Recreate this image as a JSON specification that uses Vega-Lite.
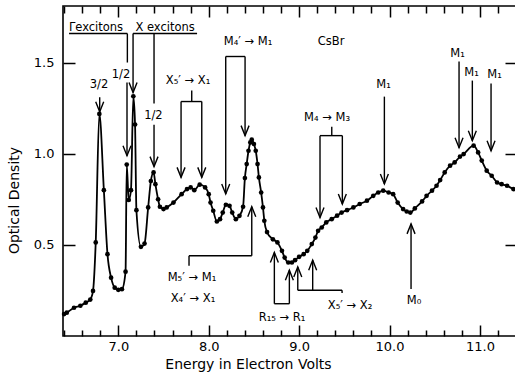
{
  "$schema": "https://vega.github.io/schema/vega-lite/v6.json",
  "width": 453,
  "height": 330,
  "autosize": {"type": "none"},
  "padding": {"left": 63, "top": 6, "right": 0, "bottom": 41},
  "background": "white",
  "config": {
    "view": {"stroke": "black", "strokeWidth": 1.6},
    "font": "DejaVu Sans",
    "axis": {"domain": false, "grid": false, "tickColor": "black", "tickWidth": 1.5, "labelColor": "black", "titleColor": "black", "labelFont": "DejaVu Sans", "titleFont": "DejaVu Sans", "labelFontSize": 13, "titleFontSize": 14, "titleFontWeight": "normal"}
  },
  "datasets": {
    "curve": [
      {"e": 6.40, "od": 0.12}, {"e": 6.43, "od": 0.128}, {"e": 6.51, "od": 0.155}, {"e": 6.58, "od": 0.166},
      {"e": 6.64, "od": 0.183}, {"e": 6.69, "od": 0.2}, {"e": 6.72, "od": 0.247}, {"e": 6.75, "od": 0.513},
      {"e": 6.79, "od": 1.218}, {"e": 6.84, "od": 0.8}, {"e": 6.88, "od": 0.449}, {"e": 6.92, "od": 0.32},
      {"e": 6.96, "od": 0.265}, {"e": 7.0, "od": 0.253}, {"e": 7.04, "od": 0.257}, {"e": 7.08, "od": 0.353},
      {"e": 7.093, "od": 0.94}, {"e": 7.115, "od": 0.746}, {"e": 7.14, "od": 0.8}, {"e": 7.166, "od": 1.315},
      {"e": 7.185, "od": 1.16}, {"e": 7.2, "od": 0.69}, {"e": 7.25, "od": 0.489}, {"e": 7.29, "od": 0.507},
      {"e": 7.33, "od": 0.705}, {"e": 7.36, "od": 0.85}, {"e": 7.39, "od": 0.897}, {"e": 7.41, "od": 0.833},
      {"e": 7.44, "od": 0.75}, {"e": 7.46, "od": 0.709}, {"e": 7.5, "od": 0.696}, {"e": 7.535, "od": 0.705},
      {"e": 7.61, "od": 0.732}, {"e": 7.7, "od": 0.778}, {"e": 7.76, "od": 0.806}, {"e": 7.8, "od": 0.815},
      {"e": 7.84, "od": 0.8}, {"e": 7.9, "od": 0.83}, {"e": 7.96, "od": 0.815}, {"e": 8.0, "od": 0.778},
      {"e": 8.02, "od": 0.732}, {"e": 8.05, "od": 0.687}, {"e": 8.09, "od": 0.628}, {"e": 8.125, "od": 0.641},
      {"e": 8.155, "od": 0.677}, {"e": 8.19, "od": 0.72}, {"e": 8.23, "od": 0.714}, {"e": 8.26, "od": 0.677},
      {"e": 8.3, "od": 0.641}, {"e": 8.34, "od": 0.659}, {"e": 8.38, "od": 0.709}, {"e": 8.4, "od": 0.866},
      {"e": 8.42, "od": 0.943}, {"e": 8.44, "od": 1.016}, {"e": 8.46, "od": 1.062}, {"e": 8.476, "od": 1.077},
      {"e": 8.5, "od": 1.053}, {"e": 8.52, "od": 1.016}, {"e": 8.54, "od": 0.943}, {"e": 8.555, "od": 0.87},
      {"e": 8.58, "od": 0.787}, {"e": 8.6, "od": 0.705}, {"e": 8.615, "od": 0.632}, {"e": 8.645, "od": 0.57},
      {"e": 8.71, "od": 0.53}, {"e": 8.76, "od": 0.513}, {"e": 8.81, "od": 0.467}, {"e": 8.84, "od": 0.43},
      {"e": 8.88, "od": 0.403}, {"e": 8.92, "od": 0.403}, {"e": 8.955, "od": 0.416}, {"e": 9.0, "od": 0.434},
      {"e": 9.05, "od": 0.449}, {"e": 9.09, "od": 0.467}, {"e": 9.14, "od": 0.504}, {"e": 9.18, "od": 0.54},
      {"e": 9.21, "od": 0.577}, {"e": 9.25, "od": 0.595}, {"e": 9.3, "od": 0.623}, {"e": 9.36, "od": 0.641},
      {"e": 9.42, "od": 0.66}, {"e": 9.47, "od": 0.677}, {"e": 9.53, "od": 0.69}, {"e": 9.6, "od": 0.705},
      {"e": 9.67, "od": 0.724}, {"e": 9.75, "od": 0.742}, {"e": 9.82, "od": 0.769}, {"e": 9.875, "od": 0.787},
      {"e": 9.93, "od": 0.797}, {"e": 9.99, "od": 0.787}, {"e": 10.04, "od": 0.778}, {"e": 10.09, "od": 0.732},
      {"e": 10.15, "od": 0.696}, {"e": 10.19, "od": 0.683}, {"e": 10.23, "od": 0.677}, {"e": 10.28, "od": 0.7},
      {"e": 10.36, "od": 0.738}, {"e": 10.41, "od": 0.769}, {"e": 10.47, "od": 0.797}, {"e": 10.52, "od": 0.824},
      {"e": 10.56, "od": 0.855}, {"e": 10.61, "od": 0.897}, {"e": 10.67, "od": 0.934}, {"e": 10.72, "od": 0.952},
      {"e": 10.78, "od": 0.984}, {"e": 10.82, "od": 0.998}, {"e": 10.93, "od": 1.044}, {"e": 10.98, "od": 1.007},
      {"e": 11.02, "od": 0.962}, {"e": 11.075, "od": 0.907}, {"e": 11.13, "od": 0.879}, {"e": 11.19, "od": 0.842},
      {"e": 11.24, "od": 0.833}, {"e": 11.3, "od": 0.824}, {"e": 11.37, "od": 0.806}, {"e": 11.41, "od": 0.8}
    ],
    "segs": [
      {"x": 6.455, "y": 1.659, "x2": 7.10, "y2": 1.659},
      {"x": 7.10, "y": 1.659, "x2": 7.10, "y2": 1.50},
      {"x": 7.096, "y": 1.39, "x2": 7.096, "y2": 0.989},
      {"x": 6.794, "y": 1.31, "x2": 6.794, "y2": 1.23},
      {"x": 7.163, "y": 1.659, "x2": 7.871, "y2": 1.659},
      {"x": 7.163, "y": 1.659, "x2": 7.163, "y2": 1.335},
      {"x": 7.395, "y": 1.659, "x2": 7.395, "y2": 1.275},
      {"x": 7.395, "y": 1.159, "x2": 7.395, "y2": 0.929},
      {"x": 7.812, "y": 1.346, "x2": 7.812, "y2": 1.286},
      {"x": 7.694, "y": 1.286, "x2": 7.923, "y2": 1.286},
      {"x": 7.694, "y": 1.286, "x2": 7.694, "y2": 0.87},
      {"x": 7.923, "y": 1.286, "x2": 7.923, "y2": 0.87},
      {"x": 8.188, "y": 1.533, "x2": 8.402, "y2": 1.533},
      {"x": 8.188, "y": 1.533, "x2": 8.188, "y2": 0.779},
      {"x": 8.402, "y": 1.533, "x2": 8.402, "y2": 1.099},
      {"x": 9.361, "y": 1.148, "x2": 9.361, "y2": 1.099},
      {"x": 9.231, "y": 1.099, "x2": 9.478, "y2": 1.099},
      {"x": 9.231, "y": 1.099, "x2": 9.231, "y2": 0.65},
      {"x": 9.478, "y": 1.099, "x2": 9.478, "y2": 0.724},
      {"x": 9.943, "y": 1.313, "x2": 9.943, "y2": 0.834},
      {"x": 10.769, "y": 1.505, "x2": 10.769, "y2": 1.033},
      {"x": 10.916, "y": 1.401, "x2": 10.916, "y2": 1.071},
      {"x": 11.123, "y": 1.385, "x2": 11.123, "y2": 1.016},
      {"x": 7.782, "y": 0.385, "x2": 7.782, "y2": 0.44},
      {"x": 7.782, "y": 0.44, "x2": 8.476, "y2": 0.44},
      {"x": 8.476, "y": 0.44, "x2": 8.476, "y2": 0.709},
      {"x": 8.726, "y": 0.177, "x2": 8.726, "y2": 0.458},
      {"x": 8.726, "y": 0.177, "x2": 8.892, "y2": 0.177},
      {"x": 8.892, "y": 0.177, "x2": 8.892, "y2": 0.361},
      {"x": 8.985, "y": 0.251, "x2": 8.985, "y2": 0.379},
      {"x": 9.15, "y": 0.251, "x2": 9.15, "y2": 0.416},
      {"x": 8.985, "y": 0.251, "x2": 9.475, "y2": 0.251},
      {"x": 9.475, "y": 0.251, "x2": 9.475, "y2": 0.236},
      {"x": 10.238, "y": 0.258, "x2": 10.238, "y2": 0.615}
    ],
    "heads": [
      {"x": 7.096, "y": 0.989, "dir": "down"}, {"x": 6.794, "y": 1.23, "dir": "down"},
      {"x": 7.163, "y": 1.335, "dir": "down"}, {"x": 7.395, "y": 0.929, "dir": "down"},
      {"x": 7.694, "y": 0.87, "dir": "down"}, {"x": 7.923, "y": 0.87, "dir": "down"},
      {"x": 8.188, "y": 0.779, "dir": "down"}, {"x": 8.402, "y": 1.099, "dir": "down"},
      {"x": 9.231, "y": 0.65, "dir": "down"}, {"x": 9.478, "y": 0.724, "dir": "down"},
      {"x": 9.943, "y": 0.834, "dir": "down"}, {"x": 10.769, "y": 1.033, "dir": "down"},
      {"x": 10.916, "y": 1.071, "dir": "down"}, {"x": 11.123, "y": 1.016, "dir": "down"},
      {"x": 8.476, "y": 0.709, "dir": "up"}, {"x": 8.726, "y": 0.458, "dir": "up"},
      {"x": 8.892, "y": 0.361, "dir": "up"}, {"x": 8.985, "y": 0.379, "dir": "up"},
      {"x": 9.15, "y": 0.416, "dir": "up"}, {"x": 10.238, "y": 0.615, "dir": "up"}
    ],
    "labels": [
      {"x": 6.753, "y": 1.692, "t": "Γexcitons"},
      {"x": 7.517, "y": 1.692, "t": "X excitons"},
      {"x": 6.786, "y": 1.374, "t": "3/2"},
      {"x": 7.03, "y": 1.434, "t": "1/2"},
      {"x": 7.388, "y": 1.209, "t": "1/2"},
      {"x": 7.771, "y": 1.401, "t": "X₅′ → X₁"},
      {"x": 8.435, "y": 1.61, "t": "M₄′ → M₁"},
      {"x": 9.353, "y": 1.61, "t": "CsBr"},
      {"x": 9.309, "y": 1.198, "t": "M₄ → M₃"},
      {"x": 9.934, "y": 1.374, "t": "M₁"},
      {"x": 10.752, "y": 1.549, "t": "M₁"},
      {"x": 10.907, "y": 1.445, "t": "M₁"},
      {"x": 11.162, "y": 1.429, "t": "M₁"},
      {"x": 7.815, "y": 0.319, "t": "M₅′ → M₁"},
      {"x": 7.826, "y": 0.203, "t": "X₄′ → X₁"},
      {"x": 8.811, "y": 0.099, "t": "R₁₅ → R₁"},
      {"x": 9.563, "y": 0.165, "t": "X₅′ → X₂"},
      {"x": 10.271, "y": 0.192, "t": "M₀"}
    ]
  },
  "layer": [
    {
      "data": {"name": "curve"},
      "mark": {"type": "line", "interpolate": "monotone", "color": "black", "strokeWidth": 1.8},
      "encoding": {
        "x": {"field": "e", "type": "quantitative", "scale": {"domain": [6.388, 11.399], "nice": false, "zero": false},
          "axis": {"orient": "bottom", "values": [6.4, 6.6, 6.8, 7.0, 7.2, 7.4, 7.6, 7.8, 8.0, 8.2, 8.4, 8.6, 8.8, 9.0, 9.2, 9.4, 9.6, 9.8, 10.0, 10.2, 10.4, 10.6, 10.8, 11.0, 11.2],
            "tickSize": {"condition": {"test": "abs(datum.value - round(datum.value)) < 0.001", "value": -11}, "value": -6},
            "labelExpr": "abs(datum.value - round(datum.value)) < 0.001 ? format(datum.value, '.1f') : ''",
            "labelPadding": 15, "labelFlush": false, "labelOverlap": false,
            "title": "Energy in Electron Volts", "titleX": 185, "titleY": 32, "titleBaseline": "alphabetic", "titleAnchor": null}},
        "y": {"field": "od", "type": "quantitative", "scale": {"domain": [0, 1.81], "nice": false, "zero": false},
          "axis": {"orient": "left", "values": [0.5, 1.0, 1.5], "format": ".1f", "tickSize": -12, "labelPadding": 21,
            "title": "Optical Density", "titleX": -45, "titleY": 194, "titleBaseline": "alphabetic", "titleAngle": -90}}
      }
    },
    {
      "data": {"name": "curve"},
      "mark": {"type": "point", "filled": true, "color": "black", "size": 22, "opacity": 1},
      "encoding": {
        "x": {"field": "e", "type": "quantitative",
          "axis": {"orient": "top", "values": [6.4, 6.6, 6.8, 7.0, 7.2, 7.4, 7.6, 7.8, 8.0, 8.2, 8.4, 8.6, 8.8, 9.0, 9.2, 9.4, 9.6, 9.8, 10.0, 10.2, 10.4, 10.6, 10.8, 11.0, 11.2],
            "tickSize": {"condition": {"test": "abs(datum.value - round(datum.value)) < 0.001", "value": -11}, "value": -7},
            "labels": false, "title": null}},
        "y": {"field": "od", "type": "quantitative",
          "axis": {"orient": "right", "values": [0.5, 1.0, 1.5], "tickSize": -10, "offset": -1, "labels": false, "title": null}}
      }
    },
    {
      "data": {"name": "segs"},
      "mark": {"type": "rule", "color": "black", "strokeWidth": 1.4},
      "encoding": {
        "x": {"field": "x", "type": "quantitative", "axis": null},
        "y": {"field": "y", "type": "quantitative", "axis": null},
        "x2": {"field": "x2"},
        "y2": {"field": "y2"}
      }
    },
    {
      "data": {"name": "heads"},
      "mark": {"type": "point", "filled": false, "color": "black", "strokeWidth": 1.4, "opacity": 1},
      "encoding": {
        "x": {"field": "x", "type": "quantitative", "axis": null},
        "y": {"field": "y", "type": "quantitative", "axis": null},
        "shape": {"field": "dir", "type": "nominal", "legend": null,
          "scale": {"domain": ["down", "up"], "range": ["M-0.4,-1L0,0L0.4,-1", "M-0.4,1L0,0L0.4,1"]}},
        "size": {"value": 400}
      }
    },
    {
      "data": {"name": "labels"},
      "mark": {"type": "text", "font": "DejaVu Sans", "fontSize": 11.5, "color": "black", "align": "center", "baseline": "middle"},
      "encoding": {
        "x": {"field": "x", "type": "quantitative", "axis": null},
        "y": {"field": "y", "type": "quantitative", "axis": null},
        "text": {"field": "t", "type": "nominal"}
      }
    }
  ],
  "resolve": {"axis": {"x": "independent", "y": "independent"}}
}
